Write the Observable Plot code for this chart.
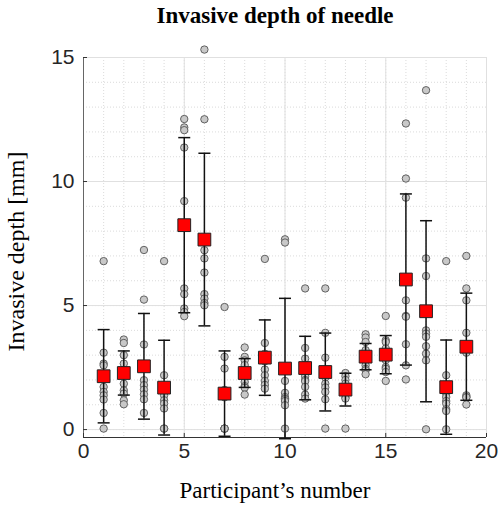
<!DOCTYPE html>
<html><head><meta charset="utf-8">
<script src="https://cdn.jsdelivr.net/npm/d3@7"></script>
<script src="https://cdn.jsdelivr.net/npm/@observablehq/plot@0.6"></script>
<style>html,body{margin:0;padding:0;background:#fff;} #chart svg{display:block;}</style>
</head><body><div id="chart"></div>
<script>
// Participant numbers
const participants = [1,2,3,4,5,6,7,8,9,10,11,12,13,14,15,16,17,18,19];
// Mean invasive depth [mm] per participant (red squares)
const means = [2.15, 2.28, 2.55, 1.69, 8.24, 7.66, 1.45, 2.28, 2.90, 2.46, 2.48, 2.32, 1.61, 2.94, 3.02, 6.05, 4.77, 1.71, 3.34];
// Standard deviation per participant (error bars)
const sds = [1.88, 0.89, 2.13, 1.91, 3.53, 3.48, 1.72, 0.58, 1.52, 2.83, 1.28, 1.57, 0.66, 0.53, 0.77, 3.45, 3.65, 1.90, 2.16];
// Individual trial depths [mm] per participant (grey circles)
const depths = [
  [6.79, 3.10, 2.66, 2.59, 1.72, 1.52, 1.38, 1.21, 0.67, 0.04],
  [3.63, 3.49, 3.00, 2.66, 2.40, 1.85, 1.58, 1.45, 1.18, 1.02],
  [7.24, 5.24, 3.43, 2.50, 1.99, 1.79, 1.61, 1.42, 1.22, 0.67],
  [6.79, 2.19, 1.72, 1.55, 1.38, 1.18, 1.05, 0.85, 0.04, 0.04],
  [12.52, 12.18, 12.07, 11.37, 9.21, 5.69, 5.46, 4.88, 4.74, 4.57],
  [15.32, 12.51, 7.60, 7.23, 6.90, 6.33, 5.46, 5.28, 5.10, 5.01],
  [4.94, 2.93, 2.46, 1.60, 1.45, 1.30, 0.04, 0.04, 0.04, 0.04],
  [3.31, 2.93, 2.79, 2.60, 2.30, 2.10, 1.92, 1.75, 1.69, 1.41],
  [6.88, 3.49, 3.06, 2.90, 2.75, 2.42, 2.19, 1.96, 1.80, 1.65],
  [7.67, 7.54, 1.96, 1.48, 1.31, 1.25, 1.22, 1.15, 0.98, 0.04],
  [5.69, 3.29, 2.86, 2.50, 2.15, 2.00, 1.95, 1.72, 1.41, 1.25],
  [5.69, 3.90, 2.90, 2.30, 2.10, 1.85, 1.70, 1.52, 1.22, 0.04],
  [2.28, 2.15, 2.00, 1.85, 1.70, 1.60, 1.42, 1.30, 1.25, 0.04],
  [3.84, 3.71, 3.53, 3.20, 3.00, 2.80, 2.59, 2.45, 2.39, 2.23],
  [4.58, 3.60, 3.53, 3.27, 3.00, 2.80, 2.52, 2.45, 2.32, 1.96],
  [12.34, 10.12, 9.35, 6.00, 5.21, 4.58, 4.55, 3.44, 2.59, 2.02],
  [13.68, 6.90, 6.19, 4.00, 3.87, 3.74, 3.36, 3.06, 2.79, 0.01],
  [6.79, 2.19, 1.70, 1.45, 1.31, 1.15, 1.05, 0.82, 0.75, 0.01],
  [7.00, 5.69, 5.21, 3.90, 3.40, 3.10, 1.38, 1.31, 1.30, 1.01]
];
// Tick values
const xTicks = [0, 5, 10, 15, 20];
const yTicks = [0, 5, 10, 15];
const xMinor = [0,1,2,3,4,5,6,7,8,9,10,11,12,13,14,15,16,17,18,19,20];
const yMinor = [0,1,2,3,4,5,6,7,8,9,10,11,12,13,14,15];
const xDomain = [0, 20];
const yDomain = [-0.32, 15];

const title = "Invasive depth of needle";
const xLabel = "Participant\u2019s number";
const yLabel = "Invasive depth [mm]";

const points = participants.flatMap((p, i) => depths[i].map(v => ({p, v})));
const summary = participants.map((p, i) => ({p, m: means[i], lo: means[i] - sds[i], hi: means[i] + sds[i]}));

const capSymbol = {
  draw(ctx, size) { const h = Math.sqrt(size / Math.PI); ctx.moveTo(-h, 0); ctx.lineTo(h, 0); }
};

const W = 499, H = 506, mL = 83, mR = 13, mT = 57, mB = 69;
const innerW = W - mL - mR, innerH = H - mT - mB;
const sans = "'Liberation Sans', Arial, sans-serif";
const serif = "'Liberation Serif', 'Times New Roman', serif";

const chart = Plot.plot({
  width: W, height: H,
  marginLeft: mL, marginRight: mR, marginTop: mT, marginBottom: mB,
  x: {domain: xDomain},
  y: {domain: yDomain},
  style: {background: "#fff", overflow: "visible"},
  marks: [
    Plot.ruleX(xMinor, {x: d => d, stroke: "#d2d2d2", strokeDasharray: "1,2", strokeWidth: 0.8}),
    Plot.ruleY(yMinor, {y: d => d, stroke: "#d2d2d2", strokeDasharray: "1,2", strokeWidth: 0.8}),
    Plot.ruleX(xTicks, {x: d => d, stroke: "#e0e0e0", strokeWidth: 1}),
    Plot.ruleY(yTicks, {y: d => d, stroke: "#e0e0e0", strokeWidth: 1}),
    Plot.ruleY([yDomain[0]], {y: d => d, stroke: "#333", strokeWidth: 1}),
    Plot.ruleX([xDomain[0]], {x: d => d, stroke: "#666", strokeWidth: 1}),
    Plot.tickY(yTicks, {y: d => d, insetRight: innerW - 4, stroke: "#333"}),
    Plot.tickX(xTicks, {x: d => d, insetTop: innerH - 4, stroke: "#333"}),
    Plot.dot(points, {x: "p", y: "v", r: 3.7, fill: "#c8c8c8", stroke: "#555", strokeWidth: 0.9}),
    Plot.ruleX(summary, {x: "p", y1: "lo", y2: "hi", stroke: "#111", strokeWidth: 1.5}),
    Plot.dot(summary, {x: "p", y: "lo", symbol: capSymbol, r: 6, stroke: "#111", strokeWidth: 1.5, fill: "none"}),
    Plot.dot(summary, {x: "p", y: "hi", symbol: capSymbol, r: 6, stroke: "#111", strokeWidth: 1.5, fill: "none"}),
    Plot.dot(summary, {x: "p", y: "m", symbol: "square", r: 7.2, fill: "#ff0000", stroke: "#222", strokeWidth: 1}),
    Plot.axisX(xTicks, {tickSize: 0, tickPadding: 6, label: null, fontSize: 21, fontFamily: sans, fill: "#262626"}),
    Plot.axisY(yTicks, {tickSize: 0, tickPadding: 9, label: null, fontSize: 21, fontFamily: sans, fill: "#262626"}),
    Plot.text([title], {frameAnchor: "top", textAnchor: "middle", dx: -10, dy: -35, lineAnchor: "bottom", fontSize: 23, fontWeight: "bold", fontFamily: serif, fill: "#000"}),
    Plot.text([xLabel], {frameAnchor: "bottom", textAnchor: "middle", dx: -10, dy: 60, lineAnchor: "bottom", fontSize: 23, fontFamily: serif, fill: "#000"}),
    Plot.text([yLabel], {frameAnchor: "left", textAnchor: "middle", dx: -60, dy: 4, rotate: -90, lineAnchor: "bottom", fontSize: 24, fontFamily: serif, fill: "#000"})
  ]
});
document.getElementById("chart").appendChild(chart);
</script>
</body></html>
